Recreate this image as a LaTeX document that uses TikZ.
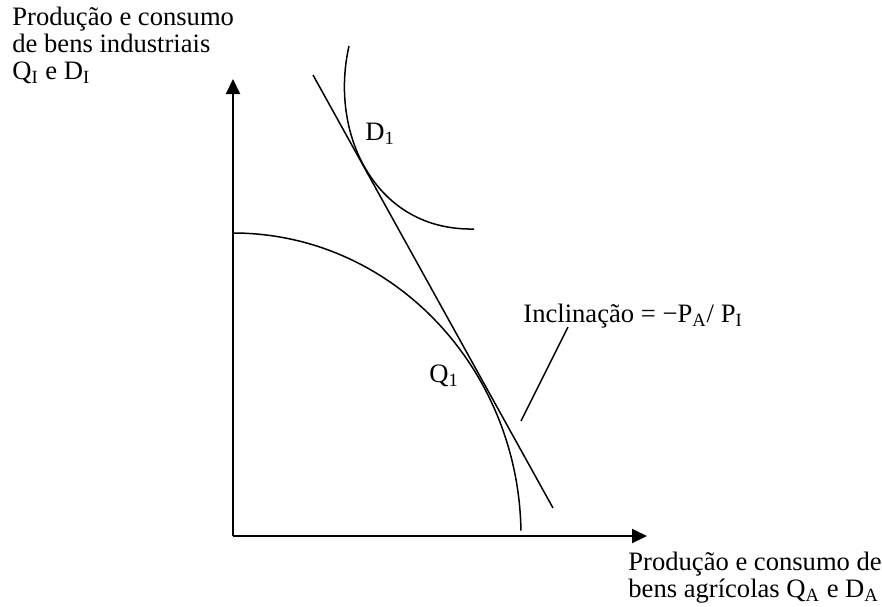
\documentclass[tikz,border=0pt]{standalone}
\usepackage{fontspec}
\setmainfont{Liberation Serif}
\usepackage{tikz}
\usetikzlibrary{arrows.meta,positioning}

\begin{document}
\begin{tikzpicture}[x=0.5pt,y=-0.5pt,
    font=\fontsize{13.3}{13.3}\selectfont,
    axis/.style={line width=1pt,-{Triangle[length=7.5pt,width=7pt]}},
    curve/.style={line width=0.75pt},
    lbl/.style={inner sep=0pt,align=left}]
  \useasboundingbox (0,0) rectangle (882,606);
  % axes
  \coordinate (o) at (233,536);
  \coordinate (ytip) at (233,79);
  \coordinate (xtip) at (647,536);
  \draw[axis] (o) -- (ytip);
  \draw[axis] (o) -- (xtip);
  \node[lbl,anchor=north west] (ylab) at (12,7) {Produção e consumo\\ de bens industriais\\ Q\textsubscript{I} e D\textsubscript{I}};
  \node[lbl,anchor=north west] (xlab) at (628,552) {Produção e consumo de\\ bens agrícolas Q\textsubscript{A} e D\textsubscript{A}};
  % production frontier and indifference curve
  \draw[curve] (233,233) arc[start angle=-90,end angle=-1,x radius=288,y radius=303];
  \draw[curve] (349,46) .. controls (339,90) and (346,134) .. (364,166)
    .. controls (384,202) and (420,230) .. (474,229);
  % price line
  \coordinate (ltop) at (313,75);
  \coordinate (lbot) at (553,508);
  \draw[curve] (ltop) -- (lbot);
  \node[lbl,anchor=base west] (d1) at (365,140) {D\textsubscript{1}};
  \node[lbl,anchor=base west] (q1) at (429,382) {Q\textsubscript{1}};
  \node[lbl,anchor=base west] (slope) at (523,322) {Inclinação = −P\textsubscript{A}/ P\textsubscript{I}};
  \coordinate (ptop) at (568,327);
  \coordinate (pbot) at (521,421);
  \draw[curve] (ptop) -- (pbot);
\end{tikzpicture}
\end{document}
